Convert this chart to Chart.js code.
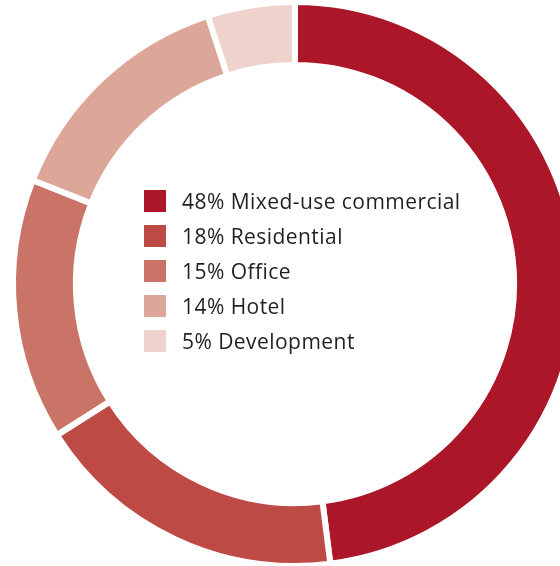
<!DOCTYPE html>
<html>
<head>
<meta charset="utf-8">
<script src="https://cdn.jsdelivr.net/npm/chart.js@4/dist/chart.umd.min.js"></script>
<style>
  html, body { margin: 0; padding: 0; background: #fff; overflow: hidden; width: 560px; height: 566px; }
  #wrap { position: absolute; left: 0; top: 0; width: 590px; height: 568px; }
</style>
</head>
<body>
<div id="wrap"><canvas id="c" width="590" height="568"></canvas></div>
<script>
// Portfolio split by use
const categories = ['Mixed-use commercial', 'Residential', 'Office', 'Hotel', 'Development'];
const shares = [48, 18, 15, 14, 5];
const sliceColors = ['#ab1628', '#bd4a45', '#c97467', '#dca698', '#efd2cc'];

// Legend drawn in the hole of the ring
const centerLegend = {
  id: 'centerLegend',
  afterDraw(chart) {
    const ctx = chart.ctx;
    const ds = chart.data.datasets[0];
    const x0 = 144, y0 = 190, box = 22, step = 35, textX = 182;
    ctx.save();
    ctx.font = '400 21px "Open Sans", sans-serif';
    if ('letterSpacing' in ctx) ctx.letterSpacing = '0.45px';
    ctx.textBaseline = 'alphabetic';
    ctx.textAlign = 'left';
    chart.data.labels.forEach((lab, i) => {
      const y = y0 + i * step;
      ctx.fillStyle = ds.backgroundColor[i];
      ctx.fillRect(x0, y, box, box);
      ctx.fillStyle = '#231f20';
      ctx.fillText(ds.data[i] + '% ' + lab, textX, y + 19);
    });
    ctx.restore();
  }
};

new Chart(document.getElementById('c'), {
  type: 'doughnut',
  data: {
    labels: categories,
    datasets: [{
      data: shares,
      backgroundColor: sliceColors,
      borderColor: '#ffffff',
      borderWidth: 6,
      hoverOffset: 0
    }]
  },
  options: {
    responsive: false,
    animation: false,
    radius: 282,
    cutout: '77.7%',
    layout: { padding: 0 },
    plugins: {
      legend: { display: false },
      tooltip: { enabled: false }
    }
  },
  plugins: [centerLegend]
});
</script>
</body>
</html>
